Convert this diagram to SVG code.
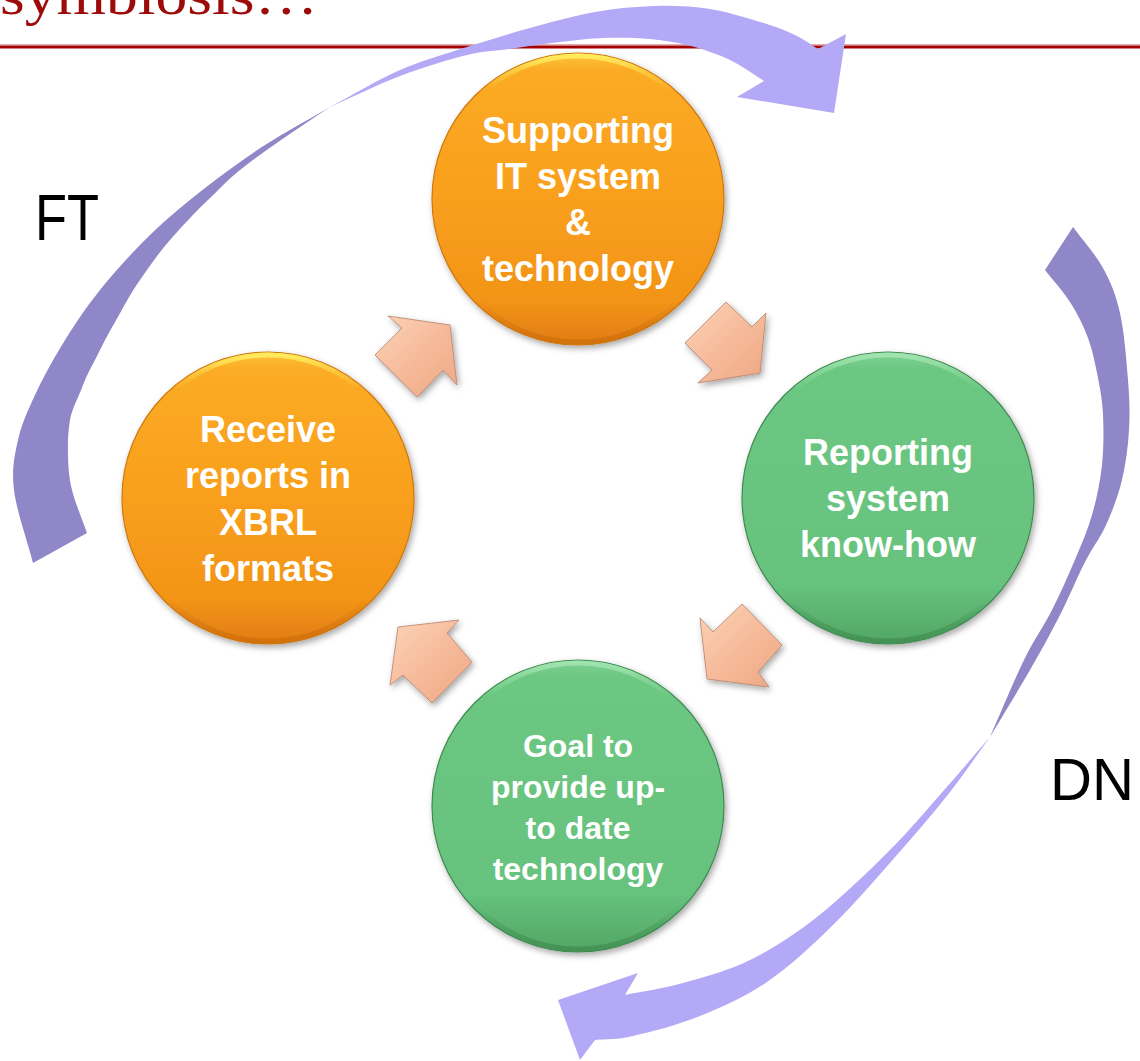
<svg xmlns="http://www.w3.org/2000/svg" width="1140" height="1061" viewBox="0 0 1140 1061">
<defs>
<style>
.ct{font-family:"Liberation Sans",Arial,sans-serif;font-weight:bold;fill:#ffffff;text-anchor:middle}
.lab{font-family:"Liberation Sans",Arial,sans-serif;fill:#000000}
.pk{fill:url(#peach);stroke:#b8826a;stroke-width:0.8;filter:url(#sh)}
.dark{fill:#8f87c7}
.light{fill:#b3a9f6}
</style>
<filter id="sh" x="-20%" y="-20%" width="140%" height="140%">
<feDropShadow dx="2" dy="3" stdDeviation="3" flood-color="#000" flood-opacity="0.35"/>
</filter>
<linearGradient id="og" x1="0" y1="0" x2="0" y2="1">
<stop offset="0" stop-color="#ffc43a"/>
<stop offset="0.06" stop-color="#fbab25"/>
<stop offset="0.5" stop-color="#f99f1c"/>
<stop offset="0.85" stop-color="#f29418"/>
<stop offset="1" stop-color="#e07c10"/>
</linearGradient>
<linearGradient id="gg" x1="0" y1="0" x2="0" y2="1">
<stop offset="0" stop-color="#7fd193"/>
<stop offset="0.06" stop-color="#6cc782"/>
<stop offset="0.8" stop-color="#66c27d"/>
<stop offset="1" stop-color="#52a664"/>
</linearGradient>
<linearGradient id="hl" x1="0" y1="0" x2="0" y2="1">
<stop offset="0" stop-color="#fff060" stop-opacity="0.9"/>
<stop offset="0.12" stop-color="#ffe050" stop-opacity="0"/>
<stop offset="0.85" stop-color="#c86a08" stop-opacity="0"/>
<stop offset="1" stop-color="#c86a08" stop-opacity="0.6"/>
</linearGradient>
<linearGradient id="hlg" x1="0" y1="0" x2="0" y2="1">
<stop offset="0" stop-color="#a8e8b5" stop-opacity="0.8"/>
<stop offset="0.12" stop-color="#a8e8b5" stop-opacity="0"/>
<stop offset="0.85" stop-color="#3d8a4e" stop-opacity="0"/>
<stop offset="1" stop-color="#3d8a4e" stop-opacity="0.7"/>
</linearGradient>
<linearGradient id="peach" x1="0" y1="0" x2="1" y2="1">
<stop offset="0" stop-color="#fcd3b8"/>
<stop offset="0.5" stop-color="#f6bb9b"/>
<stop offset="1" stop-color="#eea783"/>
</linearGradient>
</defs>

<g id="title">
<text x="0" y="14" font-family="'Liberation Serif',serif" font-size="56" fill="#9c0a0a" textLength="318" lengthAdjust="spacingAndGlyphs">symbiosis…</text>
<rect x="0" y="44" width="1140" height="1.2" fill="#e4a8a8"/>
<rect x="0" y="45.5" width="1140" height="3" fill="#a30000"/>
</g>

<g id="connectors">
<g id="arc-FT">
<path class="dark" d="M33,563 C26.7,538.7 16.5,510.5 14,490 C11.5,469.5 14.5,455.8 18,440 C21.5,424.2 27.7,410.8 35,395 C42.3,379.2 51.2,362.5 62,345 C72.8,327.5 85.3,308.3 100,290 C114.7,271.7 132.5,252 150,235 C167.5,218 185.8,203 205,188 C224.2,173 244.2,158.5 265,145 C285.8,131.5 308.3,119.7 330,107 C313.7,118 296,129.5 281,140 C266,150.5 252.7,160 240,170 C227.3,180 220.5,188.3 208,200 C195.5,211.7 181.8,226.7 170,240 C158.2,253.3 148.7,267.5 140,280 C131.3,292.5 125.5,303.3 119,315 C112.5,326.7 105.5,338.3 100,350 C94.5,361.7 87.2,373.3 83,385 C78.8,396.7 72,408.3 70,420 C68,431.7 67.7,443.3 68,455 C68.3,466.7 68.8,477 72,490 C75.2,503 82,518.7 87,533 Z"/>
<path class="light" d="M330,107 C353.3,94.7 377.2,80 400,70 C422.8,60 445.3,54 467,47 C488.7,40 508.7,33.8 530,28 C551.3,22.2 574.2,15.7 595,12 C615.8,8.3 635.8,6.5 655,6 C674.2,5.5 692.5,6.3 710,9 C727.5,11.7 745.8,17.7 760,22 C774.2,26.3 785.3,30.5 795,35 C804.7,39.5 810.3,44.3 818,49 L846,34 L834,113 L737,97 L764,81 C752.7,74 742.2,65.8 730,60 C717.8,54.2 704.3,49.5 691,46 C677.7,42.5 664.5,40.3 650,39 C635.5,37.7 619,37.5 604,38 C589,38.5 575.8,40.2 560,42 C544.2,43.8 524.5,46.8 509,49 C493.5,51.2 485.2,50.5 467,55 C448.8,59.5 422.8,67.3 400,76 C377.2,84.7 353.3,96.7 330,107 Z"/>
</g>
<g id="arc-DN">
<path class="dark" d="M1073,227 C1083,240.7 1095.2,253.7 1103,268 C1110.8,282.3 1115.8,294.3 1120,313 C1124.2,331.7 1126.5,360.5 1128,380 C1129.5,399.5 1130,413.3 1129,430 C1128,446.7 1125.8,464.2 1122,480 C1118.2,495.8 1112.2,511.3 1106,525 C1099.8,538.7 1092.7,547 1085,562 C1077.3,577 1069.2,597 1060,615 C1050.8,633 1041.7,649.7 1030,670 C1018.3,690.3 1003.3,714.7 990,737 C1001.3,711.3 1013.7,681.2 1024,660 C1034.3,638.8 1043.7,626.3 1052,610 C1060.3,593.7 1067.3,577.8 1074,562 C1080.7,546.2 1087.3,531.2 1092,515 C1096.7,498.8 1100.2,481.7 1102,465 C1103.8,448.3 1103.7,429.5 1103,415 C1102.3,400.5 1100.5,390.8 1098,378 C1095.5,365.2 1092.7,350.7 1088,338 C1083.3,325.3 1077.2,313.3 1070,302 C1062.8,290.7 1053.3,280.7 1045,270 Z"/>
<path class="light" d="M990,737 C976.7,755.3 964.5,773.5 950,792 C935.5,810.5 922.5,825.8 903,848 C883.5,870.2 855.7,902.7 833,925 C810.3,947.3 789.2,966.8 767,982 C744.8,997.2 722.3,1007 700,1016 C677.7,1025 650.5,1032 633,1036 C615.5,1040 607.7,1038.7 595,1040 L580,1060 L558,1000 L638,973 L625,995 C644.3,991 662.2,988.8 683,983 C703.8,977.2 727.7,971 750,960 C772.3,949 793.7,935.3 817,917 C840.3,898.7 868.7,871.3 890,850 C911.3,828.7 928.3,807.8 945,789 C961.7,770.2 975,754.3 990,737 Z"/>
</g>
<g id="small-arrows">
<polygon class="pk" points="388,316 450,325 457,385 443,370 417,397 375,355 402,328"/>
<polygon class="pk" points="726,302 752,327 766,313 760,373 698,383 712,370 685,343"/>
<polygon class="pk" points="742,604 782,645 758,672 769,687 707,679 700,618 713,632"/>
<polygon class="pk" points="398,627 459,620 447,633 472,662 432,703 403,675 390,685"/>
</g>
</g>

<g id="node-it">
<circle cx="578" cy="199" r="146" fill="url(#og)" stroke="#cf7610" stroke-width="1.2" filter="url(#sh)"/>
<circle cx="578" cy="199" r="143" fill="none" stroke="url(#hl)" stroke-width="5"/>
<text class="ct" font-size="36"><tspan x="578" y="143">Supporting</tspan><tspan x="578" y="189">IT system</tspan><tspan x="578" y="235">&amp;</tspan><tspan x="578" y="281">technology</tspan></text>
</g>

<g id="node-reporting">
<circle cx="888" cy="498" r="146" fill="url(#gg)" stroke="#3f8a50" stroke-width="1.2" filter="url(#sh)"/>
<circle cx="888" cy="498" r="143" fill="none" stroke="url(#hlg)" stroke-width="5"/>
<text class="ct" font-size="36"><tspan x="888" y="465">Reporting</tspan><tspan x="888" y="511">system</tspan><tspan x="888" y="557">know-how</tspan></text>
</g>

<g id="node-goal">
<circle cx="578" cy="806" r="146" fill="url(#gg)" stroke="#3f8a50" stroke-width="1.2" filter="url(#sh)"/>
<circle cx="578" cy="806" r="143" fill="none" stroke="url(#hlg)" stroke-width="5"/>
<text class="ct" font-size="32"><tspan x="578" y="757">Goal to</tspan><tspan x="578" y="798">provide up-</tspan><tspan x="578" y="839">to date</tspan><tspan x="578" y="880">technology</tspan></text>
</g>

<g id="node-xbrl">
<circle cx="268" cy="498" r="146" fill="url(#og)" stroke="#cf7610" stroke-width="1.2" filter="url(#sh)"/>
<circle cx="268" cy="498" r="143" fill="none" stroke="url(#hl)" stroke-width="5"/>
<text class="ct" font-size="36"><tspan x="268" y="442">Receive</tspan><tspan x="268" y="488">reports in</tspan><tspan x="268" y="535">XBRL</tspan><tspan x="268" y="581">formats</tspan></text>
</g>

<g id="labels">
<text class="lab" x="35" y="240" font-size="64" textLength="64" lengthAdjust="spacingAndGlyphs">FT</text>
<text class="lab" x="1050" y="800" font-size="60" textLength="84" lengthAdjust="spacingAndGlyphs">DN</text>
</g>
</svg>
